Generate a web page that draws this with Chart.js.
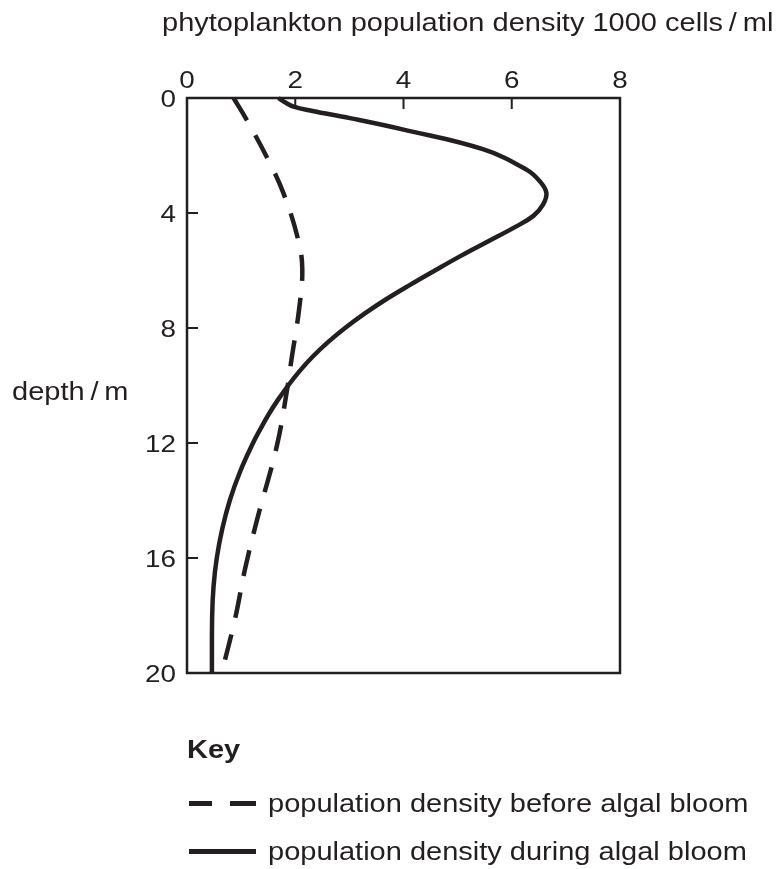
<!DOCTYPE html>
<html>
<head>
<meta charset="utf-8">
<script src="https://cdn.jsdelivr.net/npm/chart.js@4/dist/chart.umd.min.js"></script>
<style>
  html, body { margin: 0; padding: 0; background: #fff; }
  .wrap { position: relative; width: 780px; height: 869px; font-family: 'Liberation Sans', Arial, sans-serif; color: #231f20; }
  canvas { position: absolute; left: 0; top: 0; }
  .txt { position: absolute; font-size: 25px; line-height: 25px; white-space: nowrap; transform: scaleX(1.16); transform-origin: 0 0; }
  .key-line { position: absolute; height: 5px; background: #231f20; }
</style>
</head>
<body>
<div class="wrap">
  <canvas id="chart" width="780" height="869"></canvas>
  <div class="txt" style="left:162px; top:10px;">phytoplankton population density 1000 cells&#8201;/&#8201;ml</div>
  <div class="txt" style="left:12px; top:379px;">depth&#8201;/&#8201;m</div>
  <div class="txt" style="left:187px; top:737px; font-weight:bold;">Key</div>
  <div class="key-line" style="left:189px; top:801px; width:23px;"></div>
  <div class="key-line" style="left:230px; top:801px; width:26px;"></div>
  <div class="txt" style="left:268px; top:791px;">population density before algal bloom</div>
  <div class="key-line" style="left:189px; top:849px; width:67px;"></div>
  <div class="txt" style="left:268px; top:839px;">population density during algal bloom</div>
</div>
<script>
const ink = '#231f20'

// density in 1000 cells/ml, depth in m
const depthBefore = [0, 0.75, 2.15, 3.3, 4.9, 5.95, 7.36, 9.1, 10.25, 12.1, 14.7, 16.4, 18.1, 20]
const densityBefore = [0.86, 1.1, 1.5, 1.78, 2.05, 2.13, 2.07, 1.93, 1.84, 1.66, 1.29, 1.07, 0.89, 0.64]

const depthDuring = [0, 0.15, 0.3, 0.45, 0.7, 1.1, 1.79, 2.5, 2.9, 3.3, 3.7, 4.1, 4.5, 5, 5.5, 6, 6.5, 7, 7.5, 8, 8.5, 9, 9.5, 10, 10.5, 11, 11.5, 12, 13, 14, 15, 16, 17, 18, 20]
const densityDuring = [1.69, 1.81, 1.97, 2.32, 3.01, 4.0, 5.48, 6.28, 6.52, 6.64, 6.58, 6.4, 6.05, 5.55, 5.05, 4.58, 4.12, 3.68, 3.28, 2.92, 2.6, 2.32, 2.08, 1.87, 1.68, 1.51, 1.36, 1.22, 0.98, 0.79, 0.65, 0.55, 0.49, 0.465, 0.46]

const densityTicks = [0, 2, 4, 6, 8]
const depthTicks = [0, 4, 8, 12, 16, 20]

const toPoints = (xs, ys) => xs.map((x, i) => ({x: x, y: ys[i]}))

// the scan of the original is a little stretched sideways
const stretch = 1.16
const labelFont = "24px 'Liberation Sans', Arial, sans-serif"

// box round the plot, short ticks pointing inwards, tick labels
const frame = {
    id: 'frame',
    afterDatasetsDraw(chart) {
        const ctx = chart.ctx
        const a = chart.chartArea
        const xs = chart.scales.x
        const ys = chart.scales.y
        ctx.save()
        ctx.strokeStyle = ink
        ctx.lineWidth = 2.5
        ctx.strokeRect(a.left, a.top, a.right - a.left, a.bottom - a.top)
        ctx.lineWidth = 2
        densityTicks.slice(1, -1).forEach(v => {
            const px = xs.getPixelForValue(v)
            ctx.beginPath()
            ctx.moveTo(px, a.top)
            ctx.lineTo(px, a.top + 11)
            ctx.stroke()
        })
        depthTicks.slice(1, -1).forEach(v => {
            const py = ys.getPixelForValue(v)
            ctx.beginPath()
            ctx.moveTo(a.left, py)
            ctx.lineTo(a.left + 11, py)
            ctx.stroke()
        })

        ctx.fillStyle = ink
        ctx.font = labelFont
        ctx.textBaseline = 'alphabetic'
        densityTicks.forEach(v => {
            ctx.save()
            ctx.translate(xs.getPixelForValue(v), a.top - 10)
            ctx.scale(stretch, 1)
            ctx.textAlign = 'center'
            ctx.fillText(String(v), 0, 0)
            ctx.restore()
        })
        depthTicks.forEach(v => {
            ctx.save()
            ctx.translate(a.left - 11, ys.getPixelForValue(v) + 8.5)
            ctx.scale(stretch, 1)
            ctx.textAlign = 'right'
            ctx.fillText(String(v), 0, 0)
            ctx.restore()
        })
        ctx.restore()
    }
}

new Chart(document.getElementById('chart').getContext('2d'), {
    type: 'line',
    data: {
        datasets: [
            {
                label: 'population density before algal bloom',
                data: toPoints(densityBefore, depthBefore),
                borderColor: ink,
                borderWidth: 4.5,
                borderDash: [26, 17],
                pointRadius: 0,
                fill: false,
                tension: 0.4,
                clip: false
            },
            {
                label: 'population density during algal bloom',
                data: toPoints(densityDuring, depthDuring),
                borderColor: ink,
                borderWidth: 4.5,
                pointRadius: 0,
                fill: false,
                tension: 0.4,
                clip: false
            }
        ]
    },
    options: {
        responsive: false,
        animation: false,
        layout: {padding: {left: 127, top: 58, right: 160, bottom: 196}},
        plugins: {legend: {display: false}, tooltip: {enabled: false}},
        scales: {
            x: {
                type: 'linear',
                position: 'top',
                min: 0,
                max: 8,
                afterFit: s => { s.height = 40 },
                grid: {display: false},
                border: {display: false},
                ticks: {display: false}
            },
            y: {
                type: 'linear',
                position: 'left',
                min: 0,
                max: 20,
                reverse: true,
                afterFit: s => { s.width = 60 },
                grid: {display: false},
                border: {display: false},
                ticks: {display: false}
            }
        }
    },
    plugins: [frame]
})
</script>
</body>
</html>
